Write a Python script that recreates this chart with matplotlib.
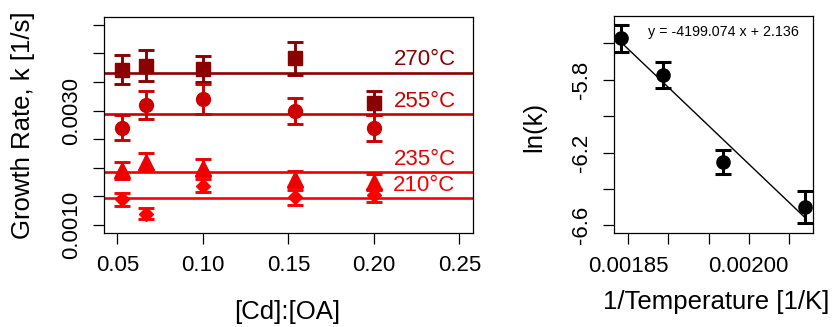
import matplotlib
matplotlib.use("Agg")
import matplotlib.pyplot as plt

plt.rcParams['font.family'] = ['Liberation Sans', 'DejaVu Sans']

# ============================================
# DATA
# ============================================
cd_oa = [0.053, 0.067, 0.100, 0.154, 0.200]

k_270 = [0.003710, 0.003785, 0.003727, 0.003914, 0.003140]
err_270 = [0.000253, 0.000270, 0.000235, 0.000285, 0.000210]
k_255 = [0.002701, 0.003098, 0.003198, 0.002998, 0.002701]
err_255 = [0.000221, 0.000245, 0.000262, 0.000230, 0.000225]
k_235 = [0.001955, 0.002107, 0.002002, 0.001808, 0.001750]
err_235 = [0.000154, 0.000145, 0.000145, 0.000136, 0.000140]
k_210 = [0.001449, 0.001196, 0.001690, 0.001481, 0.001520]
err_210 = [0.000117, 0.000096, 0.000110, 0.000131, 0.000110]

temps = ["270°C", "255°C", "235°C", "210°C"]
k_mean = [0.003663, 0.002935, 0.001921, 0.001467]
colors = ["#8B0000", "#CD0000", "#EE0000", "#FF0000"]
markers = ["s", "o", "^", "D"]
marker_sizes = [9.5, 10, 11, 7]

x_ticks = [0.05, 0.10, 0.15, 0.20, 0.25]
x_tick_labels = ["0.05", "0.10", "0.15", "0.20", "0.25"]
y_ticks = [0.0010, 0.0015, 0.0020, 0.0025, 0.0030, 0.0035, 0.0040, 0.0045]
y_tick_labels = ["0.0010", "", "", "", "0.0030", "", "", ""]

# Arrhenius data
inv_temp = [0.001841, 0.001893, 0.001968, 0.002070]
ln_k = [-5.5725, -5.774, -6.2505, -6.498]
ln_err = [0.075, 0.070, 0.065, 0.087]
fit_slope = -4199.074
fit_intercept = 2.136

arr_x_ticks = [0.00185, 0.00190, 0.00195, 0.00200, 0.00205]
arr_x_tick_labels = ["0.00185", "", "", "0.00200", ""]
arr_y_ticks = [-5.6, -5.8, -6.0, -6.2, -6.4, -6.6]
arr_y_tick_labels = ["", "-5.8", "", "-6.2", "", "-6.6"]


def style_axes(ax):
    for s in ax.spines.values():
        s.set_linewidth(0.9)
    ax.tick_params(direction='out', length=8, width=0.9, labelsize=16)
    ax.tick_params(axis='x', pad=8)
    ax.tick_params(axis='y', pad=8)
    for lab in ax.get_yticklabels():
        lab.set_rotation(90)
        lab.set_va('center')


fig = plt.figure(figsize=(8.32, 3.27), dpi=100)

# ============================================
# GROWTH RATE VS [Cd]:[OA]
# ============================================
ax1 = fig.add_axes([0.125, 0.2875, 0.4435, 0.6606])
series = [(k_270, err_270), (k_255, err_255), (k_235, err_235), (k_210, err_210)]

for (k, err), mean, col, mk, ms, label in zip(series, k_mean, colors, markers, marker_sizes, temps):
    ax1.axhline(mean, color=col, lw=1.9, zorder=1)
    ax1.errorbar(cd_oa, k, yerr=err, fmt=mk, color=col, ms=ms, elinewidth=2.1,
                 capsize=5.5, capthick=2.1, zorder=3)
    ax1.annotate(label, xy=(0.2478, mean), xytext=(0, 9.5), textcoords='offset points',
                 ha='right', va='center', color=col, fontsize=16)

ax1.set_xlim(0.0422, 0.258)
ax1.set_ylim(0.00086, 0.004636)
ax1.set_xticks(x_ticks)
ax1.set_xticklabels(x_tick_labels)
ax1.set_yticks(y_ticks)
ax1.set_yticklabels(y_tick_labels)
style_axes(ax1)

fig.text(23 / 832, 1 - 125 / 327, "Growth Rate, k [1/s]", rotation=90,
         ha='center', va='center', fontsize=18.5)
fig.text(287 / 832, 1 - 312 / 327, "[Cd]:[OA]", ha='center', va='center', fontsize=18.5)

# ============================================
# ARRHENIUS PLOT
# ============================================
ax2 = fig.add_axes([0.7384, 0.2865, 0.2392, 0.6654])
fit_x = [min(inv_temp), max(inv_temp)]
fit_y = [fit_slope * x + fit_intercept for x in fit_x]
ax2.plot(fit_x, fit_y, color='black', lw=1.0, zorder=1)
ax2.errorbar(inv_temp, ln_k, yerr=ln_err, fmt='o', color='black', ms=9.5,
             elinewidth=2.2, capsize=5.5, capthick=2.2, zorder=3)
ax2.text(0.548, 0.924, f"y = {fit_slope:.3f} x + {fit_intercept:.3f}", transform=ax2.transAxes,
         ha='center', va='center', fontsize=10.3)

ax2.set_xlim(0.0018325, 0.0020808)
ax2.set_ylim(-6.644, -5.448)
ax2.set_xticks(arr_x_ticks)
ax2.set_xticklabels(arr_x_tick_labels)
ax2.set_yticks(arr_y_ticks)
ax2.set_yticklabels(arr_y_tick_labels)
style_axes(ax2)

fig.text(534 / 832, 1 - 127 / 327, "ln(k)", rotation=90, ha='center', va='center', fontsize=18.5)
fig.text(716 / 832, 1 - 302 / 327, "1/Temperature [1/K]", ha='center', va='center', fontsize=18.5)

fig.savefig("out.png", dpi=100)
